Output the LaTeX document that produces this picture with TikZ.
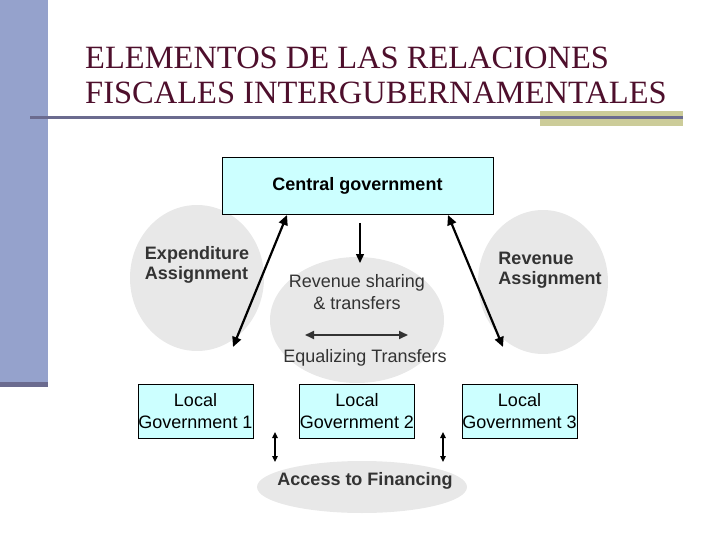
\documentclass[tikz,border=0pt]{standalone}
\usepackage{fontspec}
\setmainfont{Liberation Sans}
\newfontfamily\titlefont{Liberation Serif}
\usetikzlibrary{arrows.meta,shapes.geometric}
\definecolor{barblue}{HTML}{95A2CC}
\definecolor{linegray}{HTML}{6B6B8F}
\definecolor{oliveband}{HTML}{CCCC99}
\definecolor{titlecol}{HTML}{4E0F2C}
\definecolor{ellgray}{HTML}{E8E8E8}
\definecolor{boxcyan}{HTML}{CCFFFF}
\definecolor{txtgray}{HTML}{333333}
\tikzset{
  ell/.style={ellipse, fill=ellgray, draw=none, inner sep=0pt},
  govbox/.style={rectangle, fill=boxcyan, draw=black, line width=0.8pt, align=center, inner sep=0pt, font=\fontsize{18}{21.5}\selectfont},
  lbl/.style={text=txtgray, font=\fontsize{18}{21.5}\selectfont, inner sep=0pt},
  bigarrow/.style={line width=2.2pt, {Triangle[length=10pt,width=9pt]}-{Triangle[length=10pt,width=9pt]}},
  smallarrow/.style={line width=1.4pt, {Triangle[length=6pt,width=5.5pt]}-{Triangle[length=6pt,width=5.5pt]}},
  titletext/.style={anchor=base west, inner sep=0pt, text=titlecol, font=\titlefont\fontsize{32.5}{36}\selectfont}
}
\begin{document}
\begin{tikzpicture}[x=1pt,y=-1pt]
\useasboundingbox (0,0) rectangle (720,540);
% decoration
\fill[barblue] (0,0) rectangle (48,387);
\fill[linegray] (0,382) rectangle (48,387);
\fill[oliveband] (540,111) rectangle (683,126);
\fill[linegray] (30,116) rectangle (683,119);
% title
\node[titletext] (t1) at (85,69) {ELEMENTOS DE LAS RELACIONES};
\node[titletext] (t2) at (85,104) {FISCALES INTERGUBERNAMENTALES};
% ellipses
\node[ell, minimum width=134, minimum height=146] (eL) at (197,278) {};
\node[ell, minimum width=174, minimum height=126] (eC) at (357,320) {};
\node[ell, minimum width=130, minimum height=144] (eR) at (543,282) {};
\node[ell, minimum width=210, minimum height=52] (eB) at (362,487) {};
% central box
\node[govbox, minimum width=271, minimum height=57, font=\bfseries\fontsize{18}{21}\selectfont] (cg) at (357.5,185.5) {\raisebox{-1.5pt}{Central government}};
% labels
\node[lbl, align=left, font=\bfseries\fontsize{18}{20.5}\selectfont] (expl) at (197,265) {Expenditure\\Assignment};
\node[lbl, align=center] (rsl) at (357,292) {Revenue sharing\\\& transfers};
\node[lbl, align=left, font=\bfseries\fontsize{18}{20.5}\selectfont] (ral) at (550,270) {Revenue\\Assignment};
\node[lbl] (eql) at (365,358) {Equalizing Transfers};
\node[lbl, font=\bfseries\fontsize{18}{21}\selectfont] (afl) at (365,481) {Access to Financing};
% local governments
\node[govbox, minimum width=115, minimum height=54] (lg1) at (195.5,411) {Local\\Government 1};
\node[govbox, minimum width=115, minimum height=54] (lg2) at (357,411) {Local\\Government 2};
\node[govbox, minimum width=115, minimum height=54] (lg3) at (519.5,411) {Local\\Government 3};
% arrow end points
\coordinate (aLt) at (287,215);
\coordinate (aLb) at (233,347);
\coordinate (aRt) at (448,215);
\coordinate (aRb) at (503,347);
\coordinate (aDt) at (360,223);
\coordinate (aDb) at (360,263);
\coordinate (aEl) at (305,335);
\coordinate (aEr) at (408,335);
\coordinate (s1t) at (275,432);
\coordinate (s1b) at (275,462);
\coordinate (s2t) at (443,432);
\coordinate (s2b) at (443,462);
% arrows
\draw[bigarrow] (aLt) -- (aLb);
\draw[bigarrow] (aRt) -- (aRb);
\draw[line width=1.4pt, -{Triangle[length=9pt,width=8pt]}] (aDt) -- (aDb);
\draw[txtgray, line width=1.8pt, {Triangle[length=9pt,width=8pt]}-{Triangle[length=9pt,width=8pt]}] (aEl) -- (aEr);
\draw[smallarrow] (s1t) -- (s1b);
\draw[smallarrow] (s2t) -- (s2b);
\end{tikzpicture}
\end{document}
